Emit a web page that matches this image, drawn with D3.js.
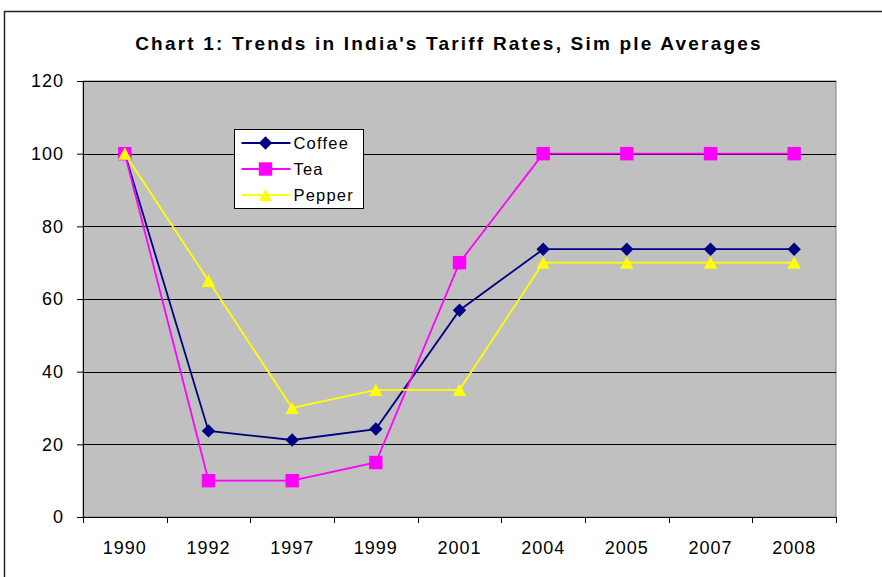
<!DOCTYPE html>
<html>
<head>
<meta charset="utf-8">
<script src="https://cdn.jsdelivr.net/npm/d3@7"></script>
<style>
  body { margin: 0; background: #fff; }
  text { font-family: "Liberation Sans", Arial, sans-serif; }
</style>
</head>
<body>
<div id="chart"></div>
<script>
// Data
const years = ['1990', '1992', '1997', '1999', '2001', '2004', '2005', '2007', '2008']
const coffee = [100, 23.7, 21.2, 24.2, 56.9, 73.7, 73.7, 73.7, 73.7]
const tea = [100, 10, 10, 15, 70, 100, 100, 100, 100]
const pepper = [100, 65, 30, 35, 35, 70, 70, 70, 70]
const yTicks = [0, 20, 40, 60, 80, 100, 120]

// Excel-like markers: diamond is a rotated square, triangle centred on its box
const diamond = { draw(ctx, size) { const r = Math.sqrt(size / 2); ctx.moveTo(0, -r); ctx.lineTo(r, 0); ctx.lineTo(0, r); ctx.lineTo(-r, 0); ctx.closePath() } }
const triangle = { draw(ctx, size) { const h = Math.sqrt(size); ctx.moveTo(0, -h / 2); ctx.lineTo(h * 0.55, h / 2); ctx.lineTo(-h * 0.55, h / 2); ctx.closePath() } }

const series = [
    { name: 'Coffee', values: coffee, color: '#000080', symbol: diamond, size: 90 },
    { name: 'Tea', values: tea, color: '#ff00ff', symbol: d3.symbolSquare, size: 180 },
    { name: 'Pepper', values: pepper, color: '#ffff00', symbol: triangle, size: 150 }
]

const width = 882
const height = 577
const margin = { top: 81, right: 46, bottom: 60, left: 83 }
const graphWidth = width - margin.left - margin.right
const graphHeight = height - margin.top - margin.bottom

const svg = d3.select('#chart').append('svg')
    .attr('width', width)
    .attr('height', height)

// outer chart border (runs past the window on right and bottom)
svg.append('rect')
    .attr('x', 4.5).attr('y', 11.5)
    .attr('width', width + 10).attr('height', height + 10)
    .attr('fill', 'none')
    .attr('stroke', '#222')
    .attr('stroke-width', 1.5)

svg.append('text')
    .attr('x', 449).attr('y', 50)
    .attr('text-anchor', 'middle')
    .style('font-size', '19px')
    .style('font-weight', 'bold')
    .style('letter-spacing', '2.2px')
    .text("Chart 1: Trends in India's Tariff Rates, Sim ple Averages")

const g = svg.append('g')
    .attr('transform', `translate(${margin.left}, ${margin.top})`)

const x = d3.scaleBand().domain(years).range([0, graphWidth])
const y = d3.scaleLinear().domain([0, 120]).range([graphHeight, 0])

g.append('rect')
    .attr('width', graphWidth)
    .attr('height', graphHeight)
    .attr('fill', '#c0c0c0')
    .attr('stroke', '#808080')

// gridlines
g.selectAll('.grid')
    .data(yTicks.filter(d => d > 0))
    .enter().append('line')
    .attr('x1', 0).attr('x2', graphWidth)
    .attr('y1', d => Math.round(y(d)) + 0.5)
    .attr('y2', d => Math.round(y(d)) + 0.5)
    .attr('stroke', '#000')

// axes
const yAxis = d3.axisLeft(y).tickValues(yTicks).tickSize(6).tickPadding(13)
const yAxisGroup = g.append('g').call(yAxis)
yAxisGroup.selectAll('text')
    .style('font-size', '18px')
    .style('letter-spacing', '1px')
    .attr('fill', '#000')

const xAxisGroup = g.append('g')
    .attr('transform', `translate(0, ${graphHeight})`)
    .call(d3.axisBottom(x).tickSize(0).tickPadding(24))
xAxisGroup.selectAll('text')
    .style('font-size', '18px')
    .style('letter-spacing', '1px')
    .attr('fill', '#000')

// x ticks sit between categories
xAxisGroup.selectAll('.sep')
    .data(d3.range(years.length + 1))
    .enter().append('line')
    .attr('x1', i => Math.round(i * x.step()) + 0.5)
    .attr('x2', i => Math.round(i * x.step()) + 0.5)
    .attr('y1', 0).attr('y2', 6)
    .attr('stroke', '#000')

const line = d3.line()
    .x((d, i) => x(years[i]) + x.bandwidth() / 2)
    .y(d => y(d))

series.forEach(s => {
    g.append('path')
        .datum(s.values)
        .attr('d', line)
        .attr('fill', 'none')
        .attr('stroke', s.color)
        .attr('stroke-width', 1.8)

    g.selectAll(null)
        .data(s.values)
        .enter().append('path')
        .attr('d', d3.symbol().type(s.symbol).size(s.size))
        .attr('transform', (d, i) => `translate(${x(years[i]) + x.bandwidth() / 2}, ${y(d)})`)
        .attr('fill', s.color)
})

// legend
const legend = svg.append('g').attr('transform', 'translate(234.5, 129.5)')
legend.append('rect')
    .attr('width', 129).attr('height', 79)
    .attr('fill', '#fff')
    .attr('stroke', '#000')

series.forEach((s, i) => {
    const row = legend.append('g').attr('transform', `translate(0, ${13.5 + i * 26})`)
    row.append('line')
        .attr('x1', 7).attr('x2', 56)
        .attr('stroke', s.color)
        .attr('stroke-width', 1.8)
    row.append('path')
        .attr('d', d3.symbol().type(s.symbol).size(s.size))
        .attr('transform', 'translate(31, 0)')
        .attr('fill', s.color)
    row.append('text')
        .attr('x', 59).attr('y', 6)
        .style('font-size', '16.5px')
        .style('letter-spacing', '1.2px')
        .text(s.name)
})
</script>
</body>
</html>
